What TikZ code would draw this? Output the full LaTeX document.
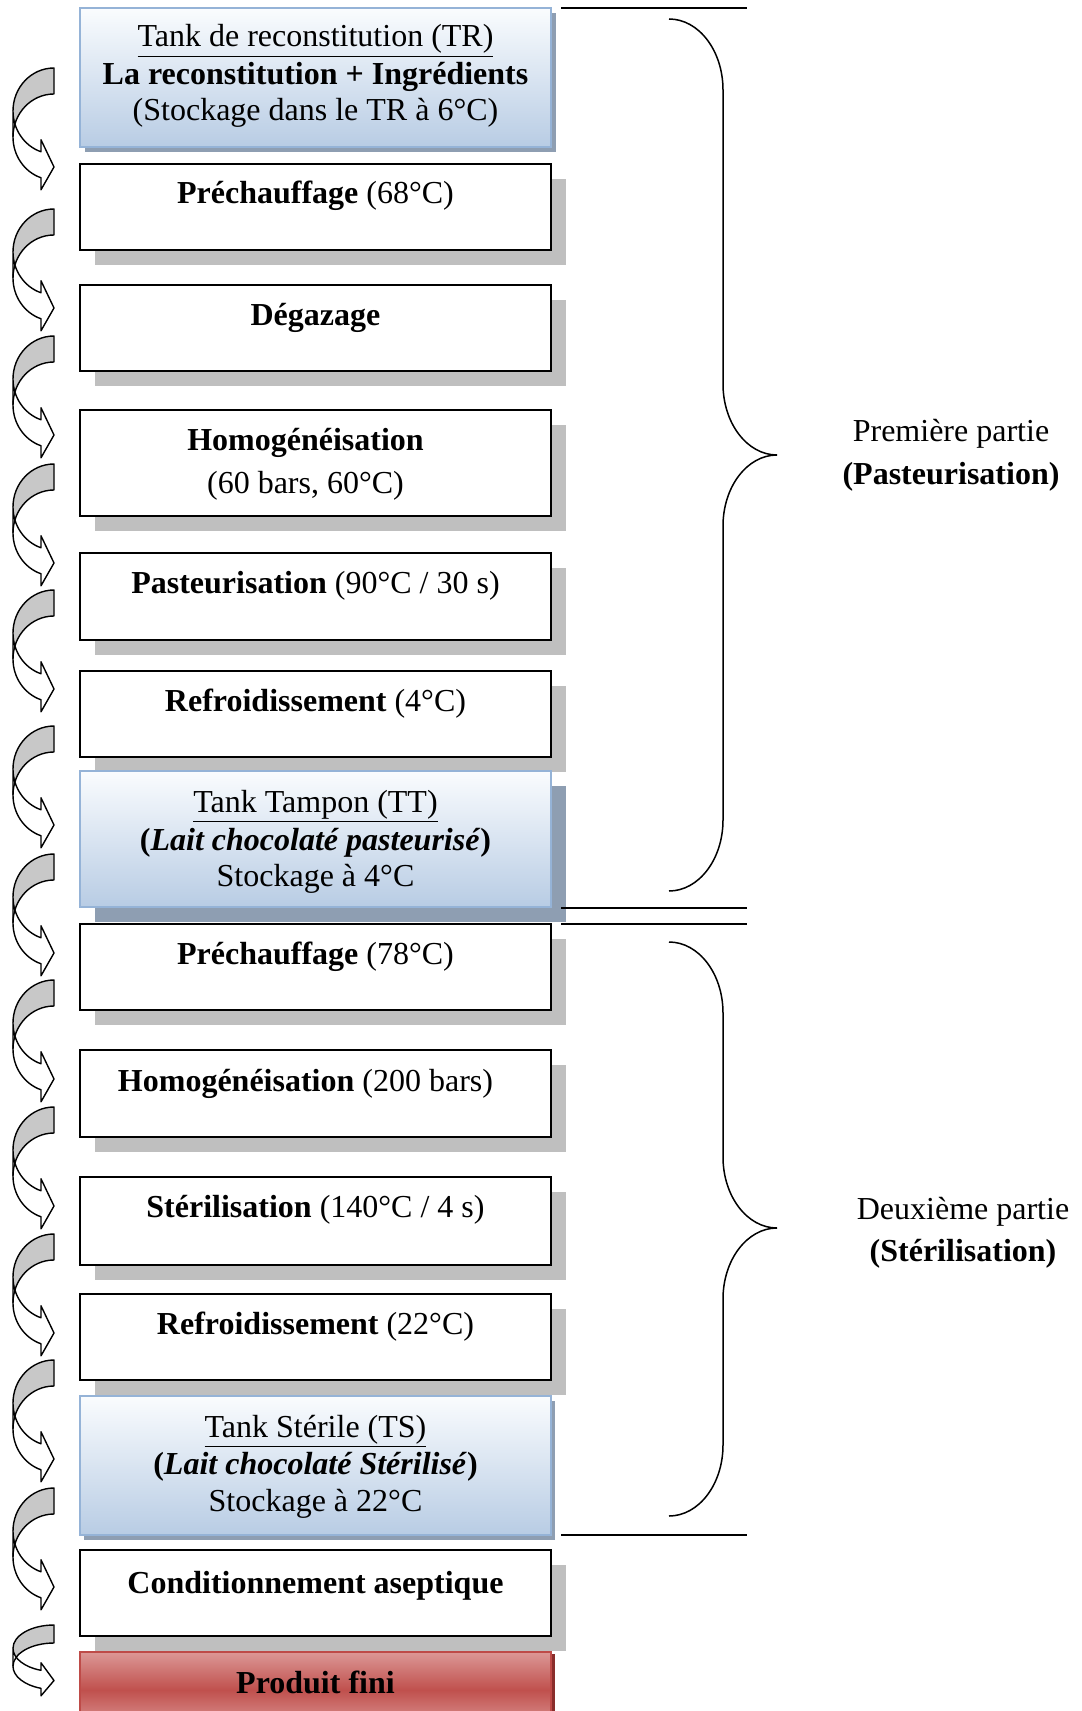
\documentclass[tikz,border=0pt]{standalone}
\usepackage{fontspec}
\setmainfont{Liberation Serif}
\usetikzlibrary{shadows}
\definecolor{shgray}{HTML}{BFBFBF}
\definecolor{arrgray}{HTML}{C8C8C8}
\definecolor{bluetop}{HTML}{FAFCFE}
\definecolor{bluebot}{HTML}{B8CCE4}
\definecolor{blueline}{HTML}{95B3D7}
\definecolor{blueshadow}{HTML}{8E9EB2}
\definecolor{redlight}{HTML}{DC9896}
\definecolor{reddark}{HTML}{C0504D}
\definecolor{redline}{HTML}{BE4B48}
\definecolor{redshadow}{HTML}{8A2D2B}
\newcommand\fs{\fontsize{16pt}{18.5pt}\selectfont}
% curved right arrow: X Y w h th aw ah  (pixel units, y downwards)
\newcommand\curvarr[7]{%
  \pgfmathsetmacro\hR{#4/2-(#5+#6)/4}%
  \pgfmathsetmacro\dY{sqrt(#3*#3-#7*#7)*\hR/#3}%
  \pgfmathsetmacro\thE{acos(-#7/#3)}%
  \pgfmathsetmacro\xa{#1+#3-#7}%
  \pgfmathsetmacro\xr{#1+#3}%
  \pgfmathsetmacro\yA{#2+\hR}%
  \pgfmathsetmacro\yB{#2+\hR+#5}%
  \pgfmathsetmacro\yT{#2+#5}%
  \pgfmathsetmacro\yF{#2+\hR+\dY-(#6-#5)/2}%
  \pgfmathsetmacro\yG{#2+#4-#6/2}%
  \pgfmathsetmacro\yH{#2+\hR+#5+\dY+(#6-#5)/2}%
  \pgfmathsetmacro\yI{#2+\hR+#5+\dY}%
  \fill[arrgray] (#1,\yA) arc[start angle=180,end angle=270,x radius=#3,y radius=\hR]
     -- (\xr,\yT) arc[start angle=270,end angle=180,x radius=#3,y radius=\hR] -- cycle;
  \fill[white] (#1,\yA) arc[start angle=180,end angle=\thE,x radius=#3,y radius=\hR]
     -- (\xa,\yF) -- (\xr,\yG) -- (\xa,\yH) -- (\xa,\yI)
     arc[start angle=\thE,end angle=180,x radius=#3,y radius=\hR] -- cycle;
  \draw[arrline] (#1,\yA) arc[start angle=180,end angle=\thE,x radius=#3,y radius=\hR]
     -- (\xa,\yF) -- (\xr,\yG) -- (\xa,\yH) -- (\xa,\yI)
     arc[start angle=\thE,end angle=180,x radius=#3,y radius=\hR] -- cycle;
  \draw[arrline] (#1,\yA) arc[start angle=180,end angle=270,x radius=#3,y radius=\hR]
     -- (\xr,\yT) arc[start angle=270,end angle=180,x radius=#3,y radius=\hR];
}
\begin{document}
\begin{tikzpicture}[x=0.5pt,y=-0.5pt,
  box/.style={anchor=north, minimum width=235.5pt, inner sep=0pt, outer sep=0pt},
  wbox/.style={box, draw=black, line width=0.9pt, fill=white,
    drop shadow={shadow xshift=7.5pt, shadow yshift=-7.5pt, fill=shgray, opacity=1}},
  bbox/.style={box, draw=blueline, line width=1pt, top color=bluetop, bottom color=bluebot},
  lbl/.style={anchor=base, inner sep=0pt, font=\fs},
  arrline/.style={draw=black, line width=0.7pt, line join=round},
  rline/.style={draw=black, line width=0.75pt}]
\useasboundingbox (0,0) rectangle (1081,1711);
\clip (0,0) rectangle (1081,1711);
\fill[white] (0,0) rectangle (1081,1711);

% boxes
\node[bbox, minimum height=69.5pt,
  drop shadow={shadow xshift=2.5pt, shadow yshift=-2.5pt, fill=blueshadow, opacity=1}] (b1) at (315.5,8) {};
\node[wbox, minimum height=43pt] (b2) at (315.5,164) {};
\node[wbox, minimum height=43pt] (b3) at (315.5,285) {};
\node[wbox, minimum height=53pt] (b4) at (315.5,410) {};
\node[wbox, minimum height=43.5pt] (b5) at (315.5,553) {};
\node[wbox, minimum height=43pt] (b6) at (315.5,671) {};
\node[bbox, minimum height=68pt,
  drop shadow={shadow xshift=7.5pt, shadow yshift=-7.5pt, fill=blueshadow, opacity=1}] (b7) at (315.5,771) {};
\node[wbox, minimum height=43pt] (b8) at (315.5,924) {};
\node[wbox, minimum height=43.5pt] (b9) at (315.5,1050) {};
\node[wbox, minimum height=44pt] (b10) at (315.5,1177) {};
\node[wbox, minimum height=43pt] (b11) at (315.5,1294) {};
\node[bbox, minimum height=69.5pt,
  drop shadow={shadow xshift=2pt, shadow yshift=-2.5pt, fill=blueshadow, opacity=1}] (b12) at (315.5,1396) {};
\node[wbox, minimum height=43pt] (b13) at (315.5,1550) {};
\node[box, minimum height=38pt, draw=redline, line width=1pt,
  top color=redlight, bottom color=redlight, middle color=reddark,
  drop shadow={shadow xshift=2pt, shadow yshift=-1pt, fill=redshadow, opacity=1}] (b14) at (315.5,1652) {};

% texts
\node[lbl] (t1a) at (315.5,47) {\underline{Tank de reconstitution (TR)}};
\node[lbl] (t1b) at (315.5,85) {\textbf{La reconstitution + Ingrédients}};
\node[lbl] (t1c) at (315.5,121) {(Stockage dans le TR à 6°C)};
\node[lbl] (t2) at (315.5,204) {\textbf{Préchauffage} (68°C)};
\node[lbl] (t3) at (315.5,326) {\textbf{Dégazage}};
\node[lbl] (t4a) at (305.5,451) {\textbf{Homogénéisation}};
\node[lbl] (t4b) at (305.5,493) {(60 bars, 60°C)};
\node[lbl] (t5) at (315.5,593) {\textbf{Pasteurisation} (90°C / 30 s)};
\node[lbl] (t6) at (315.5,711) {\textbf{Refroidissement} (4°C)};
\node[lbl] (t7a) at (315.5,812) {\underline{Tank Tampon (TT)}};
\node[lbl] (t7b) at (315.5,850) {\textbf{(\textit{Lait chocolaté pasteurisé})}};
\node[lbl] (t7c) at (315.5,886) {Stockage à 4°C};
\node[lbl] (t8) at (315.5,964) {\textbf{Préchauffage} (78°C)};
\node[lbl] (t9) at (305.5,1091) {\textbf{Homogénéisation} (200 bars)};
\node[lbl] (t10) at (315.5,1217) {\textbf{Stérilisation} (140°C / 4 s)};
\node[lbl] (t11) at (315.5,1334) {\textbf{Refroidissement} (22°C)};
\node[lbl] (t12a) at (315.5,1437) {\underline{Tank Stérile (TS)}};
\node[lbl] (t12b) at (315.5,1474) {\textbf{(\textit{Lait chocolaté Stérilisé})}};
\node[lbl] (t12c) at (315.5,1511) {Stockage à 22°C};
\node[lbl] (t13) at (315.5,1593) {\textbf{Conditionnement aseptique}};
\node[lbl] (t14) at (315.5,1693) {\textbf{Produit fini}};

\node[lbl] (p1a) at (951,442) {Première partie};
\node[lbl] (p1b) at (951,484) {\textbf{(Pasteurisation)}};
\node[lbl] (p2a) at (963,1219) {Deuxième partie};
\node[lbl] (p2b) at (963,1261) {\textbf{(Stérilisation)}};

% separator lines
\draw[rline] (561,8) -- (747,8);
\draw[rline] (561,908) -- (747,908);
\draw[rline] (561,924) -- (747,924);
\draw[rline] (561,1535) -- (747,1535);

% braces
\draw[rline] (669,19) arc[start angle=270,end angle=360,x radius=54,y radius=71]
  -- (723,384) arc[start angle=180,end angle=90,x radius=54,y radius=71]
  arc[start angle=270,end angle=180,x radius=54,y radius=71]
  -- (723,820) arc[start angle=0,end angle=90,x radius=54,y radius=71];
\draw[rline] (669,942) arc[start angle=270,end angle=360,x radius=54,y radius=71]
  -- (723,1157) arc[start angle=180,end angle=90,x radius=54,y radius=71]
  arc[start angle=270,end angle=180,x radius=54,y radius=71]
  -- (723,1445) arc[start angle=0,end angle=90,x radius=54,y radius=71];

% curved arrows
\foreach \yy in {68,209,336,464,590,726,854,980,1107,1234,1360,1488}{
  \curvarr{13}{\yy}{41}{124}{26}{50}{13}
}
\curvarr{13}{1625}{41}{72}{18}{33}{13}
\end{tikzpicture}
\end{document}
